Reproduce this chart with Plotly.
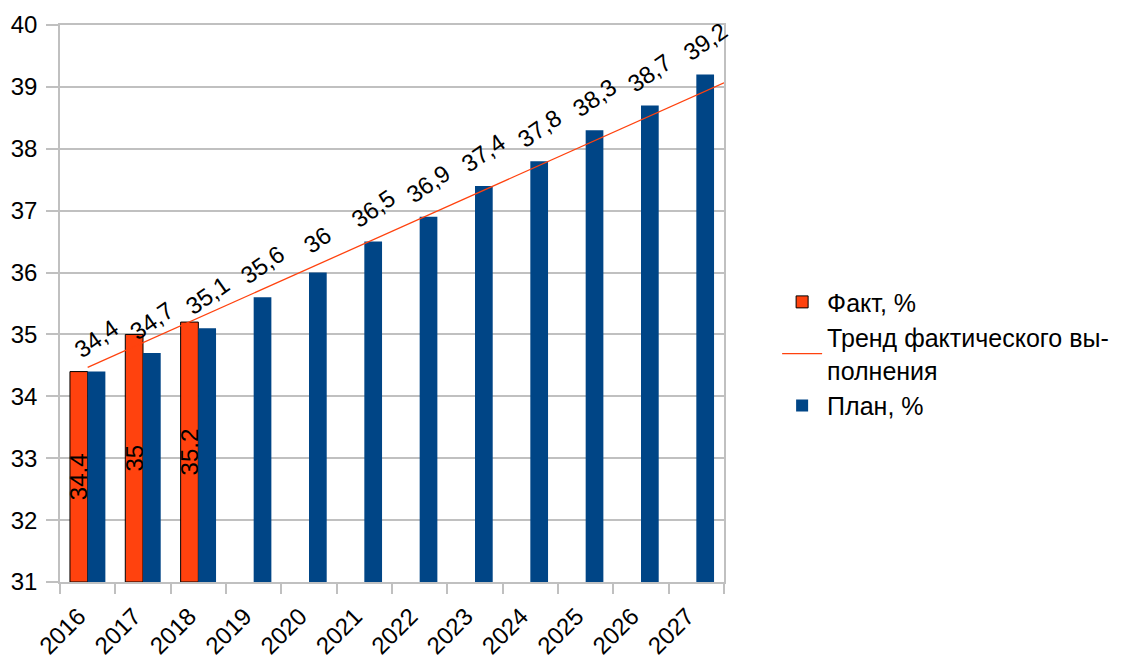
import numpy as np
import plotly.graph_objects as go

years = [2016, 2017, 2018, 2019, 2020, 2021, 2022, 2023, 2024, 2025, 2026, 2027]
fact_years = [2016, 2017, 2018]
fact_values = [34.4, 35.0, 35.2]
plan_values = [34.4, 34.7, 35.1, 35.6, 36.0, 36.5, 36.9, 37.4, 37.8, 38.3, 38.7, 39.2]
fact_name = "Факт, %"
trend_name = "Тренд фактического вы-<br>полнения"
plan_name = "План, %"

ORANGE = "#ff420e"
BLUE = "#004586"
BAR_W = 0.32
FONT = "Liberation Sans, Arial, sans-serif"
FS = 24


def fmt(v):
    s = ("%.1f" % v).rstrip("0").rstrip(".")
    return s.replace(".", ",")


# linear trend of actual values, extended to the right edge of the axis
coef = np.polyfit(fact_years, fact_values, 1)
trend_x = [years[0], years[-1] + 0.5]
trend_y = [float(np.polyval(coef, x)) for x in trend_x]

fig = go.Figure()
fig.add_trace(go.Bar(
    x=fact_years, y=[v - 31 for v in fact_values], base=31, name=fact_name,
    width=BAR_W, offset=-BAR_W,
    marker=dict(color=ORANGE, line=dict(color="#000000", width=1)),
    text=[fmt(v) for v in fact_values], textposition="inside",
    insidetextanchor="middle", textangle=-90, constraintext="none",
    textfont=dict(family=FONT, size=FS, color="#000000"),
    hoverinfo="skip",
))
fig.add_trace(go.Scatter(
    x=trend_x, y=trend_y, mode="lines", name=trend_name,
    line=dict(color=ORANGE, width=1.3),
))
fig.add_trace(go.Bar(
    x=years, y=[v - 31 for v in plan_values], base=31, name=plan_name,
    width=BAR_W, offset=0,
    marker=dict(color=BLUE, line=dict(width=0)),
    hoverinfo="skip",
))

for yr, v in zip(years, plan_values):
    fig.add_annotation(
        x=yr + BAR_W / 2, y=v, text=fmt(v), showarrow=False,
        textangle=-35, yshift=33, xanchor="center", yanchor="middle",
        font=dict(family=FONT, size=FS, color="#000000"),
    )

# page body has an 8px margin; shrink the figure so the plot sits where the reference has it
fig.update_layout(
    width=1121, height=651,
    margin=dict(l=52, r=405, t=17, b=77),
    paper_bgcolor="white", plot_bgcolor="white",
    barmode="overlay",
    font=dict(family=FONT, size=FS, color="#000000"),
    showlegend=True,
    legend=dict(x=1.08, y=0.41, xanchor="left", yanchor="middle",
                font=dict(family=FONT, size=25, color="#000000"),
                tracegroupgap=4, itemwidth=40, bgcolor="rgba(0,0,0,0)"),
)
fig.update_xaxes(
    range=[years[0] - 0.5, years[-1] + 0.5], automargin=False,
    tickvals=years, ticktext=[str(y) for y in years],
    tickangle=-45, ticks="", showgrid=False, zeroline=False,
    ticklabelstandoff=9, ticklabelshift=-9,
    showline=True, linecolor="#c0c0c0", linewidth=1.5, mirror=True,
    tickfont=dict(family=FONT, size=FS, color="#000000"),
    minor=dict(tick0=years[0] - 0.5, dtick=1, ticks="outside", ticklen=10,
               tickcolor="#c0c0c0", tickwidth=1.5, showgrid=False),
)
fig.update_yaxes(
    range=[31, 40], dtick=1, tick0=31, automargin=False,
    showgrid=True, gridcolor="#c0c0c0", gridwidth=1.5, zeroline=False,
    showline=True, linecolor="#c0c0c0", linewidth=1.5, mirror=True,
    ticks="outside", ticklen=12, tickcolor="#c0c0c0", tickwidth=1.5,
    ticklabelstandoff=4,
    tickfont=dict(family=FONT, size=FS, color="#000000"),
)

fig.write_html("out.html")
